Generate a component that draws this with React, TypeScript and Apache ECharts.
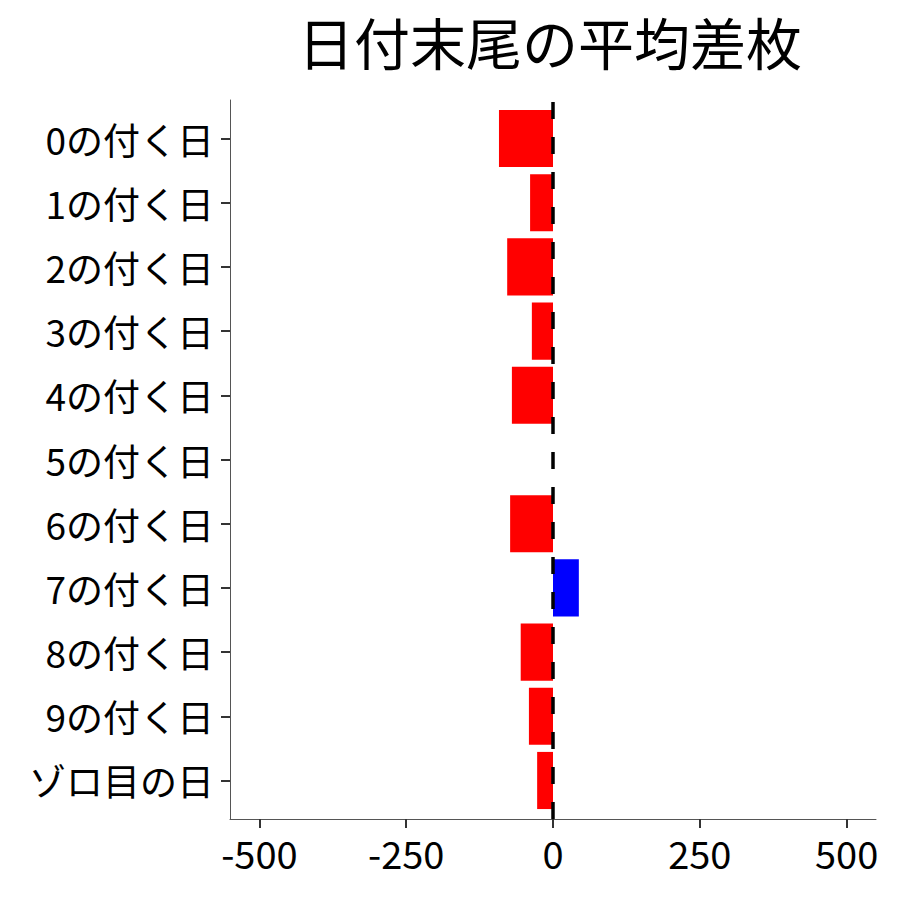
import React, { useEffect, useRef } from "react";
import * as echarts from "echarts";

const titleText = "日付末尾の平均差枚";
const categories = [
  "0の付く日",
  "1の付く日",
  "2の付く日",
  "3の付く日",
  "4の付く日",
  "5の付く日",
  "6の付く日",
  "7の付く日",
  "8の付く日",
  "9の付く日",
  "ゾロ目の日",
];
const values = [-92, -39, -78, -36, -70, 0, -73, 44, -55, -41, -27];
const xTicks = [-500, -250, 0, 250, 500];
const X_MIN = -550;
const X_MAX = 550;
const Y_PAD = 0.6;

const FONT = "'Noto Sans CJK JP', 'Noto Sans', sans-serif";

export default function App() {
  const ref = useRef<HTMLDivElement>(null);
  useEffect(() => {
    if (!ref.current) return;
    const chart = echarts.init(ref.current, undefined, { renderer: "svg" });
    const left = 230;
    const right = 24;
    const top = 100;
    const bottom = 81;
    const plotH = 900 - top - bottom;
    const band = plotH / (categories.length - 1 + 2 * Y_PAD);
    const inset = band * (Y_PAD - 0.5);
    const n = categories.length;
    chart.setOption({
      animation: false,
      backgroundColor: "#ffffff",
      textStyle: { fontFamily: FONT },
      title: {
        text: titleText,
        left: 545,
        textAlign: "center",
        top: 7,
        textStyle: { fontFamily: FONT, fontSize: 56, fontWeight: "normal", color: "#000" },
      },
      grid: [
        { left, right, top: top + inset, bottom: bottom + inset, outerBoundsMode: "none" },
        { left, right, top, bottom, outerBoundsMode: "none" },
      ],
      xAxis: [
        { gridIndex: 0, type: "value", min: X_MIN, max: X_MAX, show: false },
        {
          gridIndex: 1,
          type: "value",
          min: X_MIN,
          max: X_MAX,
          axisLine: { show: true, onZero: false, lineStyle: { color: "#555", width: 1 } },
          axisTick: { show: true, length: 9, customValues: xTicks, lineStyle: { color: "#333", width: 2 } },
          axisLabel: {
            customValues: xTicks,
            formatter: (v: number) => String(v),
            fontSize: 38,
            color: "#000",
            margin: 14,
            fontFamily: FONT,
          },
          splitLine: { show: false },
        },
      ],
      yAxis: [
        { gridIndex: 0, type: "category", data: categories, inverse: true, show: false },
        {
          gridIndex: 1,
          type: "value",
          min: -Y_PAD,
          max: n - 1 + Y_PAD,
          inverse: true,
          axisLine: { show: true, onZero: false, lineStyle: { color: "#555", width: 1 } },
          axisTick: {
            show: true,
            length: 9,
            customValues: categories.map((_, i) => i),
            lineStyle: { color: "#333", width: 2 },
          },
          axisLabel: {
            customValues: categories.map((_, i) => i),
            formatter: (v: number) => categories[Math.round(v)] ?? "",
            fontSize: 37,
            color: "#000",
            margin: 16,
            fontFamily: FONT,
          },
          splitLine: { show: false },
        },
      ],
      series: [
        {
          type: "bar",
          xAxisIndex: 0,
          yAxisIndex: 0,
          barCategoryGap: "11%",
          data: values.map((v) => ({
            value: v,
            itemStyle: { color: v > 0 ? "#0000FF" : "#FF0000" },
          })),
          z: 2,
        },
        {
          type: "line",
          xAxisIndex: 1,
          yAxisIndex: 1,
          symbol: "none",
          data: [
            [0, n - 1 + Y_PAD],
            [0, -Y_PAD],
          ],
          lineStyle: { color: "#000", width: 3.5, type: [17, 18] },
          z: 5,
          silent: true,
        },
      ],
    });
    return () => chart.dispose();
  }, []);
  return (
    <div
      ref={ref}
      style={{ position: "fixed", left: 0, top: 0, width: 900, height: 900 }}
    />
  );
}
